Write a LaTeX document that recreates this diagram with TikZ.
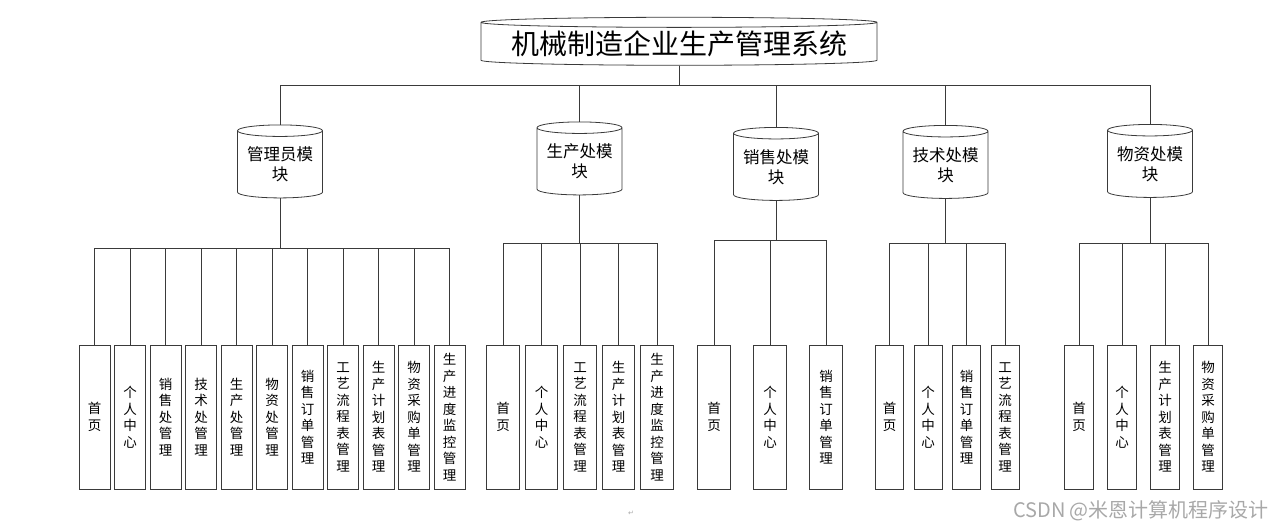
\documentclass[tikz,border=0pt]{standalone}
\usepackage{fontspec}
\setmainfont{Noto Sans CJK SC}
\newfontfamily\symfont{DejaVu Sans}
\usepackage{xcolor}
\usepackage{tikz}
\usetikzlibrary{positioning, shapes.geometric}
\definecolor{linegray}{HTML}{3A3A3A}
\definecolor{markgray}{HTML}{A8A8A8}

\begin{document}
\begin{tikzpicture}[
  x=1pt, y=-1pt,
  every node/.style={font=\fontsize{13.5}{16.5}\selectfont},
  link/.style={draw=linegray, line width=0.8pt},
  sysdrum/.style={cylinder, shape border rotate=90, draw=linegray, line width=0.8pt,
              aspect=0.03, minimum width=396pt, minimum height=48pt, inner sep=0pt,
              font=\fontsize{28}{30}\selectfont},
  moddrum/.style={cylinder, shape border rotate=90, draw=linegray, line width=0.8pt,
              aspect=0.16, minimum width=85pt, minimum height=73pt, inner sep=0pt,
              text width=72pt, align=center, font=\fontsize{16.5}{20}\selectfont},
  leafbox/.style={rectangle, draw=linegray, line width=0.8pt, inner sep=0pt, outer sep=0pt,
              text width=#1, minimum height=144pt, align=center},
  leafbox/.default=31pt,
]
  \useasboundingbox (0,0) rectangle (1284,530);

  % top and modules
  \node[sysdrum] (sys) at (679,44) {机械制造企业生产管理系统};
  \node[moddrum] (m1) at (280,164.5)  {管理员模\\块};
  \node[moddrum] (m2) at (579.5,161.5) {生产处模\\块};
  \node[moddrum] (m3) at (776,167)    {销售处模\\块};
  \node[moddrum] (m4) at (945.5,165)  {技术处模\\块};
  \node[moddrum] (m5) at (1150,164)   {物资处模\\块};

  \coordinate (bus0) at (0,85);
  \coordinate (busA) at (0,248);
  \coordinate (busB) at (0,243);
  \coordinate (busC) at (0,240);
  \coordinate (busD) at (0,243);
  \coordinate (busE) at (0,243);

  % admin
  \node[leafbox] (a1) at (94.5,417) {首\\页};
  \node[leafbox, right=4.5pt of a1] (a2) {个\\人\\中\\心};
  \node[leafbox, right=4.5pt of a2] (a3) {销\\售\\处\\管\\理};
  \node[leafbox, right=4.5pt of a3] (a4) {技\\术\\处\\管\\理};
  \node[leafbox, right=4.5pt of a4] (a5) {生\\产\\处\\管\\理};
  \node[leafbox, right=4.5pt of a5] (a6) {物\\资\\处\\管\\理};
  \node[leafbox, right=4.5pt of a6] (a7) {销\\售\\订\\单\\管\\理};
  \node[leafbox, right=4.5pt of a7] (a8) {工\\艺\\流\\程\\表\\管\\理};
  \node[leafbox, right=4.5pt of a8] (a9) {生\\产\\计\\划\\表\\管\\理};
  \node[leafbox, right=4.5pt of a9] (a10) {物\\资\\采\\购\\单\\管\\理};
  \node[leafbox, right=4.5pt of a10] (a11) {生\\产\\进\\度\\监\\控\\管\\理};

  % production
  \node[leafbox=32.5pt] (b1) at (503,417) {首\\页};
  \node[leafbox=32.5pt, right=6pt of b1] (b2) {个\\人\\中\\心};
  \node[leafbox=32.5pt, right=6pt of b2] (b3) {工\\艺\\流\\程\\表\\管\\理};
  \node[leafbox=32.5pt, right=6pt of b3] (b4) {生\\产\\计\\划\\表\\管\\理};
  \node[leafbox=32.5pt, right=6pt of b4] (b5) {生\\产\\进\\度\\监\\控\\管\\理};

  % sales
  \node[leafbox=33pt] (c1) at (714,417) {首\\页};
  \node[leafbox=33pt, right=23pt of c1] (c2) {个\\人\\中\\心};
  \node[leafbox=33pt, right=23pt of c2] (c3) {销\\售\\订\\单\\管\\理};

  % technology
  \node[leafbox=28pt] (d1) at (889.5,417) {首\\页};
  \node[leafbox=28pt, right=10.5pt of d1] (d2) {个\\人\\中\\心};
  \node[leafbox=28pt, right=10.5pt of d2] (d3) {销\\售\\订\\单\\管\\理};
  \node[leafbox=28pt, right=10.5pt of d3] (d4) {工\\艺\\流\\程\\表\\管\\理};

  % materials
  \node[leafbox=29pt] (e1) at (1079,417) {首\\页};
  \node[leafbox=29pt, right=14pt of e1] (e2) {个\\人\\中\\心};
  \node[leafbox=29pt, right=14pt of e2] (e3) {生\\产\\计\\划\\表\\管\\理};
  \node[leafbox=29pt, right=14pt of e3] (e4) {物\\资\\采\\购\\单\\管\\理};

  % connectors
  \foreach \m in {m1,m2,m3,m4,m5}
    \draw[link] (sys.south) |- (\m.north |- bus0) -- (\m.north);
  \foreach \i in {1,...,11}
    \draw[link] (m1.south) |- (a\i.north |- busA) -- (a\i.north);
  \foreach \i in {1,...,5}
    \draw[link] (m2.south) |- (b\i.north |- busB) -- (b\i.north);
  \foreach \i in {1,...,3}
    \draw[link] (m3.south) |- (c\i.north |- busC) -- (c\i.north);
  \foreach \i in {1,...,4}
    \draw[link] (m4.south) |- (d\i.north |- busD) -- (d\i.north);
  \foreach \i in {1,...,4}
    \draw[link] (m5.south) |- (e\i.north |- busE) -- (e\i.north);

  \node[text=markgray, font=\symfont\fontsize{7}{8}\selectfont] (ret) at (631,513) {↵};
  \node[text=markgray, font=\fontsize{20}{24}\selectfont] (mark) at (1141,511) {CSDN @米恩计算机程序设计};
\end{tikzpicture}
\end{document}
